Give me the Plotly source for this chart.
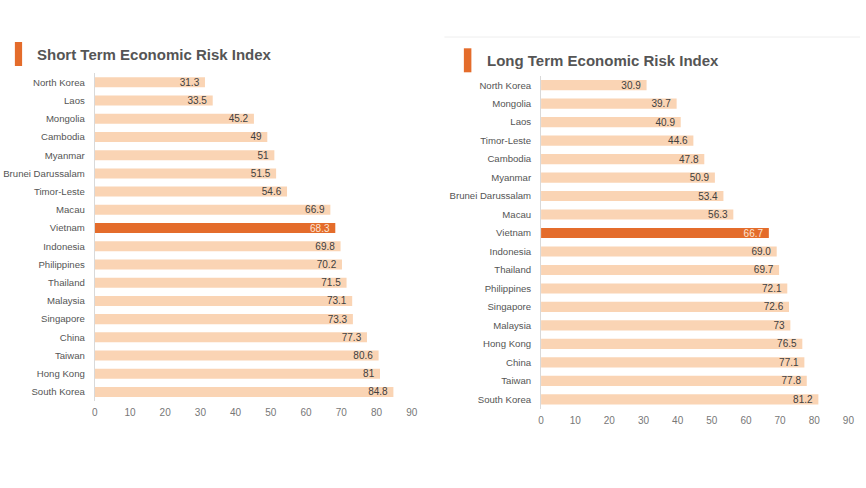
import plotly.graph_objects as go

# ---- data ----
short_countries = ["North Korea", "Laos", "Mongolia", "Cambodia", "Myanmar",
                   "Brunei Darussalam", "Timor-Leste", "Macau", "Vietnam",
                   "Indonesia", "Philippines", "Thailand", "Malaysia",
                   "Singapore", "China", "Taiwan", "Hong Kong", "South Korea"]
short_values = [31.3, 33.5, 45.2, 49, 51, 51.5, 54.6, 66.9, 68.3, 69.8,
                70.2, 71.5, 73.1, 73.3, 77.3, 80.6, 81, 84.8]
short_labels = ["31.3", "33.5", "45.2", "49", "51", "51.5", "54.6", "66.9",
                "68.3", "69.8", "70.2", "71.5", "73.1", "73.3", "77.3",
                "80.6", "81", "84.8"]

long_countries = ["North Korea", "Mongolia", "Laos", "Timor-Leste", "Cambodia",
                  "Myanmar", "Brunei Darussalam", "Macau", "Vietnam",
                  "Indonesia", "Thailand", "Philippines", "Singapore",
                  "Malaysia", "Hong Kong", "China", "Taiwan", "South Korea"]
long_values = [30.9, 39.7, 40.9, 44.6, 47.8, 50.9, 53.4, 56.3, 66.7, 69.0,
               69.7, 72.1, 72.6, 73, 76.5, 77.1, 77.8, 81.2]
long_labels = ["30.9", "39.7", "40.9", "44.6", "47.8", "50.9", "53.4", "56.3",
               "66.7", "69.0", "69.7", "72.1", "72.6", "73", "76.5", "77.1",
               "77.8", "81.2"]

x_ticks = [0, 10, 20, 30, 40, 50, 60, 70, 80, 90]
highlight = "Vietnam"
titles = ["Short Term Economic Risk Index", "Long Term Economic Risk Index"]

# ---- style ----
W, H = 866, 488
PEACH = "#FAD4B4"
ORANGE = "#E46C2B"
FONT = "Liberation Sans, Arial, sans-serif"


def px(v):
    return v / W


def py(v):
    return 1 - v / H


fig = go.Figure()


def add_panel(countries, values, labels, xa, ya):
    colors = [ORANGE if c == highlight else PEACH for c in countries]
    tcolors = ["#FBE5D6" if c == highlight else "#404040" for c in countries]
    fig.add_trace(go.Bar(
        x=values, y=countries, orientation="h",
        marker=dict(color=colors, line=dict(width=0)),
        text=labels, texttemplate="%{text}\u00a0",
        textposition="inside", insidetextanchor="end",
        textfont=dict(family=FONT, size=10, color=tcolors),
        constraintext="none", cliponaxis=False,
        xaxis=xa, yaxis=ya, showlegend=False, hoverinfo="skip",
    ))


add_panel(short_countries, short_values, short_labels, "x", "y")
add_panel(long_countries, long_values, long_labels, "x2", "y2")

axis_x = dict(range=[0, 90], tickvals=x_ticks, showgrid=False, zeroline=False,
              showline=False, ticks="", fixedrange=True, ticklabelstandoff=4,
              tickfont=dict(family=FONT, size=10, color="#777777"))
axis_y = dict(showgrid=False, zeroline=False, showline=True, linecolor="#D9D9D9",
              linewidth=1, ticks="", fixedrange=True, ticklabelstandoff=7,
              tickfont=dict(family=FONT, size=9.6, color="#555555"))

fig.update_layout(
    width=W, height=H,
    margin=dict(l=0, r=0, t=0, b=0),
    paper_bgcolor="white", plot_bgcolor="white",
    bargap=0.45,
    xaxis=dict(axis_x, domain=[px(92.7), px(413.0)], anchor="y"),
    yaxis=dict(axis_y, domain=[py(401.1), py(73.2)], anchor="x",
               range=[len(short_countries) - 0.5, -0.5]),
    xaxis2=dict(axis_x, domain=[px(543.7), px(854.3)], anchor="y2"),
    yaxis2=dict(axis_y, domain=[py(408.6), py(75.9)], anchor="x2",
                range=[len(long_countries) - 0.5, -0.5]),
    font=dict(family=FONT),
)

# title markers and titles
fig.add_shape(type="rect", xref="paper", yref="paper",
              x0=px(12), x1=px(19.3), y0=py(66), y1=py(42),
              fillcolor=ORANGE, line=dict(width=0))
fig.add_shape(type="rect", xref="paper", yref="paper",
              x0=px(465.7), x1=px(473.3), y0=py(72.3), y1=py(48.3),
              fillcolor=ORANGE, line=dict(width=0))
fig.add_shape(type="line", xref="paper", yref="paper",
              x0=px(446), x1=1, y0=py(37), y1=py(37),
              line=dict(color="#EEEEEE", width=1))

fig.add_annotation(text="<b>" + titles[0] + "</b>", xref="paper", yref="paper",
                   x=px(32), y=py(54.5), xanchor="left", yanchor="middle",
                   showarrow=False,
                   font=dict(family=FONT, size=15, color="#555555"))
fig.add_annotation(text="<b>" + titles[1] + "</b>", xref="paper", yref="paper",
                   x=px(487), y=py(60.5), xanchor="left", yanchor="middle",
                   showarrow=False,
                   font=dict(family=FONT, size=15, color="#555555"))

fig.write_html("out.html", config={"displayModeBar": False},
               post_script="document.body.style.margin='0';"
                           "document.body.style.overflow='hidden';")
